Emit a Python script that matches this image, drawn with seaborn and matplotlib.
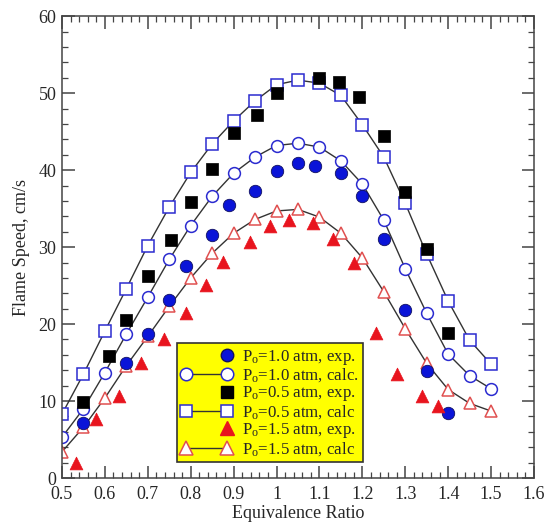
import matplotlib
matplotlib.use("Agg")
import matplotlib.pyplot as plt
import numpy as np
import pandas as pd
import seaborn as sns
from matplotlib.lines import Line2D
from matplotlib.ticker import MultipleLocator, FuncFormatter

# calculated curves share the same equivalence-ratio grid
phi_calc = [0.50, 0.55, 0.60, 0.65, 0.70, 0.75, 0.80, 0.85, 0.90, 0.95, 1.00,
            1.05, 1.10, 1.15, 1.20, 1.25, 1.30, 1.35, 1.40, 1.45, 1.50]
calc_10 = [5.3, 9.0, 13.7, 18.7, 23.5, 28.4, 32.8, 36.6, 39.6, 41.7, 43.2,
           43.5, 43.0, 41.2, 38.2, 33.5, 27.2, 21.4, 16.1, 13.3, 11.6]
calc_05 = [8.3, 13.5, 19.1, 24.6, 30.2, 35.2, 39.7, 43.4, 46.4, 49.0, 51.1,
           51.7, 51.3, 49.7, 45.9, 41.7, 35.7, 29.1, 23.0, 17.9, 14.8]
calc_15 = [3.4, 6.6, 10.4, 14.6, 18.4, 22.3, 26.0, 29.2, 31.8, 33.6, 34.7,
           34.9, 33.9, 31.8, 28.6, 24.2, 19.4, 14.9, 11.5, 9.7, 8.7]

# experiments
phi_exp_10 = [0.55, 0.65, 0.70, 0.75, 0.79, 0.85, 0.89, 0.95, 1.00, 1.05,
              1.09, 1.15, 1.20, 1.25, 1.30, 1.35, 1.40]
exp_10 = [7.1, 14.9, 18.7, 23.1, 27.6, 31.6, 35.5, 37.3, 39.9, 40.9,
          40.6, 39.6, 36.7, 31.0, 21.8, 13.9, 8.5]
phi_exp_05 = [0.55, 0.61, 0.65, 0.70, 0.755, 0.80, 0.85, 0.90, 0.955, 1.00,
              1.10, 1.145, 1.193, 1.25, 1.30, 1.35, 1.40]
exp_05 = [9.9, 15.8, 20.5, 26.3, 30.9, 35.9, 40.1, 44.8, 47.2, 50.0,
          52.0, 51.5, 49.5, 44.5, 37.1, 29.8, 18.8]
phi_exp_15 = [0.533, 0.58, 0.634, 0.685, 0.737, 0.789, 0.836, 0.875, 0.938,
              0.984, 1.028, 1.086, 1.132, 1.181, 1.231, 1.28, 1.338, 1.377]
exp_15 = [1.9, 7.7, 10.7, 15.0, 18.1, 21.4, 25.1, 28.1, 30.6,
          32.8, 33.5, 33.1, 31.0, 27.9, 18.9, 13.5, 10.7, 9.4]

labels = ["P$_\\mathrm{o}$=1.0 atm, exp.", "P$_\\mathrm{o}$=1.0 atm, calc.",
          "P$_\\mathrm{o}$=0.5 atm, exp.", "P$_\\mathrm{o}$=0.5 atm, calc",
          "P$_\\mathrm{o}$=1.5 atm, exp.", "P$_\\mathrm{o}$=1.5 atm, calc"]

sns.set_theme(style="ticks")
plt.rcParams["font.family"] = ["Liberation Serif", "DejaVu Serif"]
plt.rcParams["mathtext.fontset"] = "custom"
plt.rcParams["mathtext.rm"] = "Liberation Serif"
plt.rcParams["mathtext.it"] = "Liberation Serif:italic"

BLUE = "#2b2bd0"
RED = "#e8141e"
OPEN_RED = "#e05050"

fig = plt.figure(figsize=(5.47, 5.23), dpi=100)
ax = fig.add_axes([0.1133, 0.086, 0.8629, 0.883])

line_kw = dict(color="#333333", lw=1.0, markerfacecolor="white", markersize=8.5,
               markeredgewidth=1.1, legend=False, zorder=2)
sns.lineplot(x=phi_calc, y=calc_05, marker="s", markeredgecolor=BLUE, ax=ax, **line_kw)
sns.lineplot(x=phi_calc, y=calc_10, marker="o", markeredgecolor=BLUE, ax=ax, **line_kw)
sns.lineplot(x=phi_calc, y=calc_15, marker="^", markeredgecolor=OPEN_RED, ax=ax, **line_kw)

sns.scatterplot(x=phi_exp_05, y=exp_05, marker="s", color="black", s=75,
                edgecolor="black", linewidth=0.5, ax=ax, zorder=3)
sns.scatterplot(x=phi_exp_10, y=exp_10, marker="o", color="#0a14d8", s=80,
                edgecolor="#101060", linewidth=0.6, ax=ax, zorder=3)
sns.scatterplot(x=phi_exp_15, y=exp_15, marker="^", color=RED, s=85,
                edgecolor=RED, linewidth=0.5, ax=ax, zorder=3)

ax.set_xlim(0.5, 1.6)
ax.set_ylim(0, 60)
ax.xaxis.set_major_locator(MultipleLocator(0.1))
ax.xaxis.set_minor_locator(MultipleLocator(0.02))
ax.yaxis.set_major_locator(MultipleLocator(10))
ax.yaxis.set_minor_locator(MultipleLocator(2))
ax.xaxis.set_major_formatter(FuncFormatter(lambda v, p: f"{v:g}"))
ax.tick_params(which="both", direction="in", top=True, right=True, color="#444444")
ax.tick_params(which="major", length=9, width=1.1, labelsize=13)
ax.tick_params(axis="x", which="major", pad=6)
ax.tick_params(axis="y", which="major", pad=4)
ax.tick_params(which="minor", length=4.5, width=0.9)
for sp in ax.spines.values():
    sp.set_color("#444444")
    sp.set_linewidth(1.1)

ax.set_xlabel("Equivalence Ratio", fontsize=13, labelpad=1)
ax.set_ylabel("Flame Speed, cm/s", fontsize=13, labelpad=6)

handles = [
    Line2D([], [], ls="none", marker="o", markersize=9, markerfacecolor="#0a14d8",
           markeredgecolor="#101060"),
    Line2D([], [], color="#333333", lw=1.0, marker="o", markersize=9,
           markerfacecolor="white", markeredgecolor=BLUE, markeredgewidth=1.1),
    Line2D([], [], ls="none", marker="s", markersize=8.5, color="black"),
    Line2D([], [], color="#333333", lw=1.0, marker="s", markersize=9,
           markerfacecolor="white", markeredgecolor=BLUE, markeredgewidth=1.1),
    Line2D([], [], ls="none", marker="^", markersize=9.5, color=RED),
    Line2D([], [], color="#333333", lw=1.0, marker="^", markersize=9.5,
           markerfacecolor="white", markeredgecolor=OPEN_RED, markeredgewidth=1.1),
]
leg = ax.legend(handles, labels, loc="lower left", bbox_to_anchor=(0.2436, 0.034),
                borderaxespad=0, fontsize=12.2, frameon=True, fancybox=False,
                labelspacing=0.0, handlelength=3.0, handletextpad=0.6,
                borderpad=0.25, numpoints=2, markerfirst=True)
leg.get_frame().set_facecolor("#ffff00")
leg.get_frame().set_edgecolor("#333333")
leg.get_frame().set_linewidth(1.2)
leg.get_frame().set_alpha(1.0)
# exp. entries show one marker centered
for h in leg.legend_handles[0::2]:
    h.set_markevery([1])

fig.savefig("out.png", dpi=100)
